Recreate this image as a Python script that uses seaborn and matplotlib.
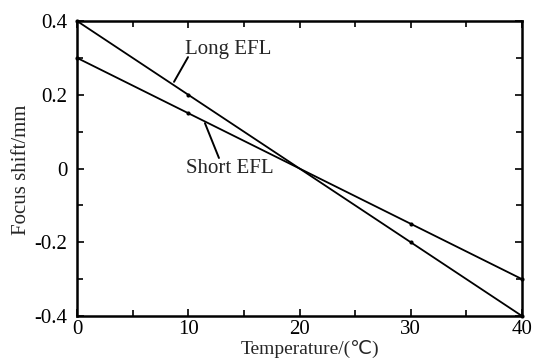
import matplotlib
matplotlib.use("Agg")
import matplotlib.pyplot as plt
import seaborn as sns
import pandas as pd
from matplotlib.ticker import MultipleLocator

temperature = [0, 10, 20, 30, 40]
long_efl = [0.4, 0.2, 0.0, -0.2, -0.4]
short_efl = [0.3, 0.15, 0.0, -0.15, -0.3]
marker_temps = [0, 10, 30, 40]
x_ticks = [0, 10, 20, 30, 40]
x_tick_labels = ["0", "10", "20", "30", "40"]
y_ticks = [-0.4, -0.2, 0, 0.2, 0.4]
y_tick_labels = ["-0.4", "-0.2", "0", "0.2", "0.4"]

sns.set_theme(style="white")
plt.rcParams['font.family'] = ['Liberation Serif', 'DejaVu Sans', 'Noto Sans CJK SC']

df = pd.DataFrame({
    "Temperature": temperature * 2,
    "Shift": long_efl + short_efl,
    "Series": ["Long EFL"] * len(temperature) + ["Short EFL"] * len(temperature),
})
df_marks = df[df["Temperature"].isin(marker_temps)]

fig = plt.figure(figsize=(5.35, 3.58), dpi=100)
ax = fig.add_axes([77/535, 1 - 316/358, 445/535, 295/358])

sns.lineplot(data=df, x="Temperature", y="Shift", hue="Series",
             palette=["black", "black"], linewidth=1.3, legend=False, ax=ax)
sns.scatterplot(data=df_marks, x="Temperature", y="Shift", color="black",
                s=9, linewidth=0, legend=False, ax=ax, clip_on=False, zorder=3)

ax.set_xlim(0, 40)
ax.set_ylim(-0.4, 0.4)
ax.set_xticks(x_ticks)
ax.set_xticklabels(x_tick_labels)
ax.set_yticks(y_ticks)
ax.set_yticklabels(y_tick_labels)
ax.xaxis.set_minor_locator(MultipleLocator(5))
ax.yaxis.set_minor_locator(MultipleLocator(0.1))

ax.tick_params(which="both", direction="in", top=True, right=True,
               bottom=True, left=True, colors="black", labelsize=15, width=1.2)
ax.tick_params(which="major", length=5)
ax.tick_params(axis="x", which="major", pad=3)
ax.tick_params(axis="y", which="major", pad=7)
ax.tick_params(which="minor", length=4)
for s in ax.spines.values():
    s.set_color("black")
    s.set_linewidth(1.8)

ax.set_xlabel("Temperature/(℃)", fontsize=14)
ax.xaxis.set_label_coords(0.524, -0.082)
ax.set_ylabel("Focus shift/mm", fontsize=15)
ax.yaxis.set_label_coords(-0.103, 0.495)

ax.plot([8.72, 9.98], [0.235, 0.302], color="black", lw=1.4)
ax.text(13.6, 0.324, "Long EFL", fontsize=15, ha="center", va="center")
ax.plot([11.5, 12.76], [0.123, 0.0285], color="black", lw=1.4)
ax.text(13.75, 0.0, "Short EFL", fontsize=15, ha="center", va="center")

fig.savefig("out.png", dpi=100)
